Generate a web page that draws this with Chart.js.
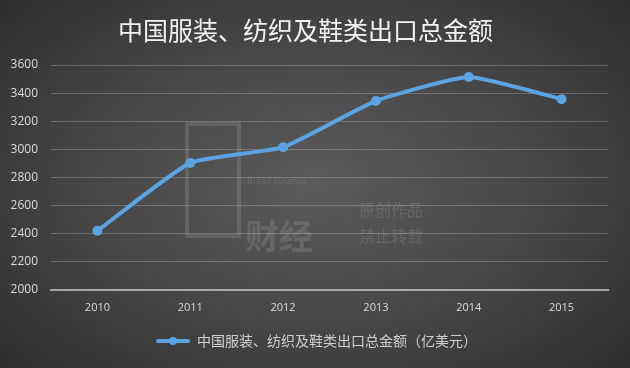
<!DOCTYPE html>
<html>
<head>
<meta charset="utf-8">
<script src="https://cdn.jsdelivr.net/npm/chart.js@4/dist/chart.umd.min.js"></script>
<style>
  html, body { margin: 0; padding: 0; }
  body {
    width: 630px; height: 368px; overflow: hidden;
    background: radial-gradient(ellipse 70% 75% at 50% 50%, #5b5b5b 0%, #474747 50%, #2c2c2c 100%);
  }
</style>
</head>
<body>
<canvas id="exportChart" width="630" height="368"></canvas>
<script>
/* 中国服装、纺织及鞋类出口总金额 (亿美元) */
var years = ["2010", "2011", "2012", "2013", "2014", "2015"];
var exportValues = [2420, 2903, 3015, 3344, 3514, 3357];
var seriesName = "中国服装、纺织及鞋类出口总金额（亿美元）";
var titleText = "中国服装、纺织及鞋类出口总金额";

var lineColor = "#5ba4e3";
var cjk = "'Noto Sans CJK SC', 'Noto Sans', sans-serif";

// legend marker: short line with a dot in the middle (left part left blank)
var marker = document.createElement("canvas");
marker.width = 56; marker.height = 10;
var mctx = marker.getContext("2d");
mctx.strokeStyle = lineColor; mctx.lineWidth = 4; mctx.lineCap = "round";
mctx.beginPath(); mctx.moveTo(24, 5); mctx.lineTo(54, 5); mctx.stroke();
mctx.fillStyle = lineColor;
mctx.beginPath(); mctx.arc(39, 5, 4, 0, Math.PI * 2); mctx.fill();

// faint watermark
var watermark = {
  id: "watermark",
  beforeDatasetsDraw: function (chart) {
    var ctx = chart.ctx;
    ctx.save();
    ctx.fillStyle = "rgba(255,255,255,0.12)";
    ctx.font = "9px " + cjk;
    ctx.fillText("Bread Finance", 247, 181);
    ctx.font = "16px " + cjk;
    ctx.fillText("原创作品", 359, 210);
    ctx.fillText("禁止转载", 359, 236);
    ctx.font = "bold 34px " + cjk;
    ctx.fillText("财经", 245, 236);
    ctx.strokeStyle = "rgba(255,255,255,0.12)";
    ctx.lineWidth = 4;
    ctx.strokeRect(187, 124, 52, 112);
    ctx.restore();
  }
};

new Chart("exportChart", {
  type: "line",
  data: {
    labels: years,
    datasets: [{
      label: seriesName,
      data: exportValues,
      borderColor: lineColor,
      backgroundColor: lineColor,
      borderWidth: 4,
      tension: 0.15,
      pointRadius: 5,
      pointHoverRadius: 5,
      pointStyle: "circle",
      pointBackgroundColor: lineColor,
      pointBorderWidth: 0
    }]
  },
  options: {
    responsive: false,
    animation: false,
    layout: { padding: { left: 3, right: 22, top: 0, bottom: 10 } },
    plugins: {
      title: {
        display: true,
        text: titleText,
        color: "#f2f2f2",
        font: { family: cjk, size: 25, weight: "normal" },
        padding: { top: 15, bottom: 20 }
      },
      legend: {
        position: "bottom",
        labels: {
          color: "#d0d0d0",
          font: { family: cjk, size: 14 },
          usePointStyle: true,
          pointStyle: marker,
          pointStyleWidth: 56,
          padding: 17
        }
      },
      tooltip: { enabled: false }
    },
    scales: {
      x: {
        offset: true,
        grid: { display: false },
        border: { color: "#a8a8a8", width: 2 },
        ticks: { color: "#dcdcdc", font: { family: "'Open Sans', sans-serif", size: 11 }, padding: 3 }
      },
      y: {
        min: 2000,
        max: 3600,
        afterFit: function (scale) { scale.width = 48; },
        ticks: {
          stepSize: 200, color: "#dcdcdc", padding: 13,
          font: { family: "'Open Sans', sans-serif", size: 12 },
          callback: function (v) { return String(v); }
        },
        grid: { color: "rgba(255,255,255,0.22)", lineWidth: 1, drawTicks: false },
        border: { display: false }
      }
    }
  },
  plugins: [watermark]
});
</script>
</body>
</html>
